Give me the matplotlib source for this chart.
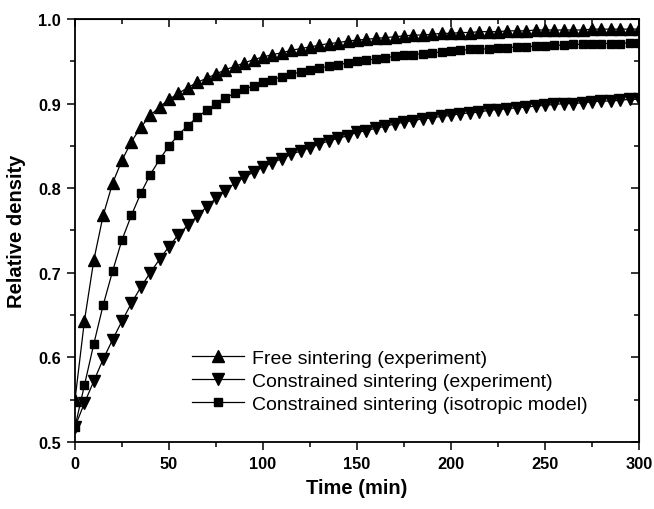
import numpy as np
import matplotlib.pyplot as plt

plt.rcParams['font.family'] = ['Liberation Sans', 'DejaVu Sans']

# time in minutes, one point every 5 min
time = list(range(0, 301, 5))

free_exp = [0.550, 0.643, 0.715, 0.768, 0.806, 0.833, 0.855, 0.872, 0.886, 0.896,
            0.905, 0.912, 0.919, 0.925, 0.930, 0.935, 0.940, 0.944, 0.948, 0.952,
            0.955, 0.958, 0.960, 0.963, 0.965, 0.967, 0.969, 0.971, 0.972, 0.974,
            0.975, 0.976, 0.977, 0.978, 0.979, 0.980, 0.981, 0.981, 0.982, 0.983,
            0.983, 0.984, 0.984, 0.985, 0.985, 0.985, 0.986, 0.986, 0.986, 0.987,
            0.987, 0.987, 0.987, 0.987, 0.987, 0.988, 0.988, 0.988, 0.988, 0.988,
            0.988]

constr_exp = [0.518, 0.546, 0.572, 0.598, 0.621, 0.643, 0.664, 0.683, 0.700, 0.716,
              0.731, 0.745, 0.756, 0.767, 0.778, 0.788, 0.797, 0.806, 0.813, 0.819,
              0.825, 0.830, 0.835, 0.840, 0.844, 0.848, 0.852, 0.856, 0.859, 0.862,
              0.866, 0.868, 0.871, 0.873, 0.876, 0.878, 0.880, 0.882, 0.883, 0.885,
              0.886, 0.888, 0.889, 0.890, 0.892, 0.893, 0.894, 0.895, 0.896, 0.897,
              0.898, 0.899, 0.900, 0.900, 0.901, 0.902, 0.903, 0.903, 0.904, 0.905,
              0.905]

constr_model = [0.518, 0.567, 0.616, 0.662, 0.702, 0.739, 0.768, 0.794, 0.816, 0.834,
                0.850, 0.863, 0.874, 0.884, 0.892, 0.900, 0.907, 0.912, 0.917, 0.921,
                0.925, 0.928, 0.932, 0.935, 0.937, 0.940, 0.942, 0.944, 0.946, 0.948,
                0.950, 0.951, 0.953, 0.954, 0.956, 0.957, 0.958, 0.959, 0.960, 0.961,
                0.962, 0.963, 0.964, 0.964, 0.965, 0.966, 0.966, 0.967, 0.967, 0.968,
                0.968, 0.969, 0.969, 0.970, 0.970, 0.970, 0.971, 0.971, 0.971, 0.972,
                0.972]

fig = plt.figure(figsize=(6.54, 5.10), dpi=100)
ax = fig.add_axes([0.1147, 0.1314, 0.8623, 0.8294])

ax.plot(time, free_exp, color='black', lw=0.9, marker='^', ms=8,
        label='Free sintering (experiment)')
ax.plot(time, constr_exp, color='black', lw=0.9, marker='v', ms=8,
        label='Constrained sintering (experiment)')
ax.plot(time, constr_model, color='black', lw=0.9, marker='s', ms=6.3,
        label='Constrained sintering (isotropic model)')

ax.set_xlim(0, 300)
ax.set_ylim(0.5, 1.0)
ax.set_xticks(np.arange(0, 301, 50))
ax.set_xticks(np.arange(25, 300, 50), minor=True)
ax.set_yticks(np.arange(0.5, 1.01, 0.1))
ax.set_yticks(np.arange(0.55, 1.0, 0.1), minor=True)
ax.set_yticklabels(['0.5', '0.6', '0.7', '0.8', '0.9', '1.0'])

for s in ax.spines.values():
    s.set_linewidth(1.3)
ax.tick_params(which='major', direction='out', length=6, width=1.1,
               labelsize=11.8, pad=4)
ax.tick_params(which='minor', direction='out', length=3.5, width=1.1)
for lab in ax.get_xticklabels() + ax.get_yticklabels():
    lab.set_fontweight('bold')

# mirrored ticks on top and right
top = ax.secondary_xaxis('top')
top.set_xticks(np.arange(0, 301, 50))
top.set_xticks(np.arange(25, 300, 50), minor=True)
top.tick_params(which='major', direction='in', length=6, width=1.1, labeltop=False)
top.tick_params(which='minor', direction='in', length=3.5, width=1.1)
right = ax.secondary_yaxis('right')
right.set_yticks(np.arange(0.5, 1.01, 0.1))
right.set_yticks(np.arange(0.55, 1.0, 0.1), minor=True)
right.tick_params(which='major', direction='in', length=6, width=1.1, labelright=False)
right.tick_params(which='minor', direction='in', length=3.5, width=1.1)

ax.set_xlabel('Time (min)', fontsize=14.5, fontweight='bold', labelpad=5)
ax.set_ylabel('Relative density', fontsize=14.5, fontweight='bold', labelpad=9)

ax.legend(loc='center left', bbox_to_anchor=(0.2074, 0.1442), frameon=False,
          fontsize=14, handlelength=2.7, handletextpad=0.4, labelspacing=0.28,
          borderpad=0, borderaxespad=0)

fig.savefig('out.png', dpi=100)
